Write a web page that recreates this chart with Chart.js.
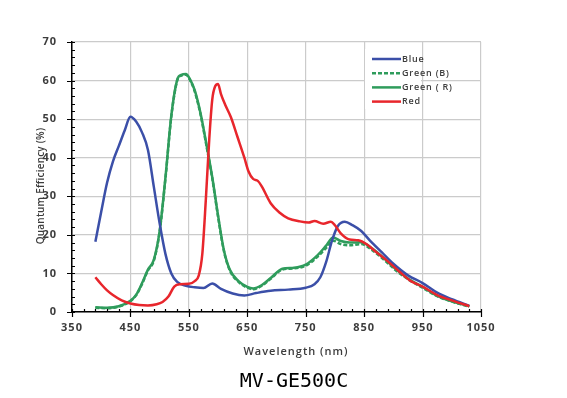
<!DOCTYPE html>
<html>
<head>
<meta charset="utf-8">
<script src="https://cdn.jsdelivr.net/npm/chart.js@4.4.1/dist/chart.umd.min.js"></script>
<style>
  html, body { margin: 0; padding: 0; background: #fff; }
  canvas { display: block; }
</style>
</head>
<body>
<canvas id="qeChart" width="567" height="398"></canvas>
<script>
// --- DATA ---
const blueWl = [390,400,410,420,430,440,450,460,470,480,490,500,510,520,530,545,560,575,590,605,625,645,665,690,720,750,765,775,785,795,805,817,830,845,860,880,900,925,950,975,1000,1030];
const blueQe = [18.2,26,33.5,39,43,47,50.6,49.3,46.5,42,32.5,23,15,10,7.8,6.8,6.4,6.2,7.4,6,4.8,4.3,4.9,5.5,5.8,6.3,7.2,9,13,18.5,22.3,23.4,22.5,21,18.5,15.5,12.5,9.5,7.5,5,3.3,1.6];

const greenWl = [390,410,430,450,460,470,480,490,500,510,520,530,537,545,552,560,570,580,590,600,610,620,635,650,660,675,690,710,730,750,770,785,797,810,825,845,865,885,905,925,950,975,1000,1030];
const greenRQe = [1.2,1.1,1.5,2.9,4.5,7.5,11,13.5,21,35,51,60.2,61.5,61.7,60.3,57.5,51.5,43.5,35,25,16,11,8,6.5,6.1,7,8.8,11.2,11.5,12.3,14.7,17.2,19.3,18.4,18,18.1,16.3,13.8,11,8.7,6.5,4.2,2.8,1.5];
const greenBQe = [1.1,1.0,1.4,2.8,4.4,7.3,10.8,13.3,20.8,34.7,50.7,60,61.3,61.5,60.1,57.2,51.2,43.2,34.7,24.7,15.8,10.8,7.8,6.3,5.9,6.8,8.6,11,11.3,12,14.3,16.6,18.5,17.6,17.3,17.6,15.9,13.4,10.7,8.5,6.3,4.1,2.7,1.4];

const redWl = [390,400,410,420,435,450,465,480,495,505,515,525,535,550,560,567,573,579,585,590,595,600,605,612,622,633,645,652,660,668,675,690,705,720,740,755,765,780,793,800,810,825,840,855,870,890,910,930,950,975,1000,1030];
const redQe = [9,7.2,5.6,4.4,3,2.2,1.8,1.7,2,2.6,4,6.6,7.2,7.3,8,9.5,15,29,45,55,58.5,59.1,56.5,53.8,50.5,45.5,40,36.5,34.5,34,32.5,28.2,25.8,24.3,23.5,23.2,23.6,22.9,23.4,22.5,20.4,18.8,18.6,17.5,15.6,13.2,10.5,8,6.6,4.4,3,1.5];

const seriesNames = ['Blue', 'Green (B)', 'Green ( R)', 'Red'];
const xTickLabels = [350, 450, 550, 650, 750, 850, 950, 1050];
const yTickLabels = [0, 10, 20, 30, 40, 50, 60, 70];

const caption = 'MV-GE500C';
const xTitle = 'Wavelength (nm)';
const yTitle = 'Quantum Efficiency (%)';

// --- COLOURS ---
const BLUE = '#3b4fa8';
const GREEN = '#2f9c5c';
const RED = '#e8262c';
const GRID = '#cbcbcb';
const TEXT = '#3c3c3c';

function pts(wl, qe) {
    return wl.map((w, i) => ({ x: w, y: qe[i] }));
}

// --- PLUGINS ---
// letter-spaced text like the original export
const spacing = {
    id: 'spacing',
    beforeDraw(chart) { chart.ctx.letterSpacing = '1px'; }
};

// white patch under the legend (hides horizontal grid there)
const legendBack = {
    id: 'legendBack',
    beforeDatasetsDraw(chart) {
        const ctx = chart.ctx;
        ctx.save();
        ctx.fillStyle = '#fff';
        ctx.fillRect(365, 49, 56, 60);
        ctx.restore();
    }
};

// inner minor ticks + crossing major ticks, legend, titles, caption
const decor = {
    id: 'decor',
    afterDraw(chart) {
        const ctx = chart.ctx;
        const xs = chart.scales.x, ys = chart.scales.y;
        const x0 = xs.left, y0 = ys.bottom;
        ctx.save();
        ctx.strokeStyle = '#000';
        ctx.lineWidth = 1.2;
        ctx.beginPath();
        for (let v = 350; v <= 1050; v += 20) {
            const px = Math.round(xs.getPixelForValue(v)) + 0.5;
            const major = xTickLabels.includes(v);
            ctx.moveTo(px, y0 - 3);
            ctx.lineTo(px, y0 + (major ? 5 : 0));
        }
        for (let v = 0; v <= 70; v += 2) {
            const py = Math.round(ys.getPixelForValue(v)) + 0.5;
            const major = yTickLabels.includes(v);
            ctx.moveTo(x0 + 3, py);
            ctx.lineTo(x0 - (major ? 5 : 0), py);
        }
        ctx.stroke();

        // legend
        const rows = [
            { label: seriesNames[0], color: BLUE, dash: [] },
            { label: seriesNames[1], color: GREEN, dash: [4, 2] },
            { label: seriesNames[2], color: GREEN, dash: [] },
            { label: seriesNames[3], color: RED, dash: [] }
        ];
        ctx.font = '600 9px "Open Sans"';
        ctx.textBaseline = 'middle';
        ctx.textAlign = 'left';
        ctx.letterSpacing = '0.8px';
        rows.forEach((r, i) => {
            const y = 59 + i * 14.2;
            ctx.beginPath();
            ctx.setLineDash(r.dash);
            ctx.strokeStyle = r.color;
            ctx.lineWidth = 2.5;
            ctx.moveTo(372, y);
            ctx.lineTo(401, y);
            ctx.stroke();
            ctx.setLineDash([]);
            ctx.fillStyle = TEXT;
            ctx.fillText(r.label, 402, y);
        });

        // axis titles
        ctx.fillStyle = TEXT;
        ctx.textAlign = 'center';
        ctx.font = '600 11px "Open Sans"';
        ctx.letterSpacing = '1px';
        ctx.fillText(xTitle, 296, 352);
        ctx.save();
        ctx.translate(41, 186);
        ctx.rotate(-Math.PI / 2);
        ctx.font = '600 10px "Open Sans"';
        ctx.letterSpacing = '0.2px';
        ctx.fillText(yTitle, 0, 0);
        ctx.restore();

        // caption
        ctx.fillStyle = '#000';
        ctx.letterSpacing = '0px';
        ctx.font = '20px "DejaVu Sans Mono"';
        ctx.fillText(caption, 294, 382);
        ctx.restore();
    }
};

// --- CHART SETUP ---
const lineStyle = {
    borderWidth: 2.5,
    pointRadius: 0,
    fill: false,
    cubicInterpolationMode: 'monotone'
};

const ctx = document.getElementById('qeChart').getContext('2d');
const chart = new Chart(ctx, {
    type: 'line',
    data: {
        datasets: [
            { label: seriesNames[0], data: pts(blueWl, blueQe), borderColor: BLUE, order: 1, ...lineStyle },
            { label: seriesNames[1], data: pts(greenWl, greenBQe), borderColor: GREEN, borderDash: [4, 2], order: 3, ...lineStyle },
            { label: seriesNames[2], data: pts(greenWl, greenRQe), borderColor: GREEN, order: 2, ...lineStyle },
            { label: seriesNames[3], data: pts(redWl, redQe), borderColor: RED, order: 0, ...lineStyle }
        ]
    },
    options: {
        responsive: false,
        animation: false,
        devicePixelRatio: 1,
        layout: { padding: { left: 0, top: 42, right: 86, bottom: 36 } },
        plugins: {
            legend: { display: false },
            tooltip: { enabled: false }
        },
        scales: {
            x: {
                type: 'linear',
                min: 350,
                max: 1050,
                afterFit: s => { s.height = 50; },
                ticks: {
                    stepSize: 20,
                    autoSkip: false,
                    maxRotation: 0,
                    padding: 9,
                    color: TEXT,
                    font: { family: 'Open Sans', size: 11, weight: 'bold' },
                    callback: v => xTickLabels.includes(v) ? v : ''
                },
                grid: {
                    drawTicks: false,
                    color: c => xTickLabels.includes(c.tick && c.tick.value) ? GRID : 'rgba(0,0,0,0)',
                    lineWidth: 1.2
                },
                border: { color: '#000', width: 1.5 }
            },
            y: {
                min: 0,
                max: 70,
                afterFit: s => { s.width = 72; },
                ticks: {
                    stepSize: 2,
                    autoSkip: false,
                    padding: 15,
                    color: TEXT,
                    font: { family: 'Open Sans', size: 11, weight: 'bold' },
                    callback: v => yTickLabels.includes(v) ? v : ''
                },
                grid: {
                    drawTicks: false,
                    color: c => yTickLabels.includes(c.tick && c.tick.value) ? GRID : 'rgba(0,0,0,0)',
                    lineWidth: 1.2
                },
                border: { color: '#000', width: 1.5 }
            }
        }
    },
    plugins: [spacing, legendBack, decor]
});
</script>
</body>
</html>
